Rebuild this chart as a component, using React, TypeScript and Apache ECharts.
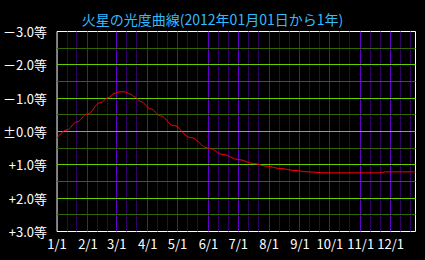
import React, { useEffect, useRef } from "react";
import * as echarts from "echarts";

// Day offsets from 2012-01-01 and Mars magnitude
const days = [0, 10, 20, 30, 44, 51, 58, 63, 68, 73, 78, 84, 94, 104, 117, 134, 152, 167, 182, 197, 211, 224, 239, 251, 271, 324, 330, 360];
const magnitudes = [0.19, -0.05, -0.29, -0.52, -0.87, -1.01, -1.15, -1.19, -1.19, -1.13, -1.04, -0.9, -0.68, -0.47, -0.18, 0.18, 0.5, 0.69, 0.84, 0.96, 1.04, 1.11, 1.17, 1.21, 1.24, 1.24, 1.21, 1.21];

const titleText = "火星の光度曲線(2012年01月01日から1年)";
const yTicks = [-3, -2, -1, 0, 1, 2, 3];
const yHalfLines = [-2.5, -1.5, -0.5, 0.5, 1.5, 2.5];
const dayCount = 361;

const FONT = "'Noto Sans CJK JP', 'Noto Sans', sans-serif";
const LINE_COLORS = ["#6600cc", "#330066", "#66cc00", "#336600"];

function dayDate(i: number) {
  return new Date(2012, 0, 1 + i);
}

const dayLabels: string[] = [];
for (let i = 0; i < dayCount; i++) {
  const d = dayDate(i);
  dayLabels.push(`${d.getMonth() + 1}/${d.getDate()}`);
}

function magLabel(v: number) {
  if (v === 0) return "±0.0等";
  return (v < 0 ? "－" : "+") + Math.abs(v).toFixed(1) + "等";
}

export default function App() {
  const ref = useRef<HTMLDivElement>(null);
  useEffect(() => {
    if (!ref.current) return;
    const chart = echarts.init(ref.current, undefined, { renderer: "svg" });

    // vertical grid lines: [dayIndex, 0, colorKind]
    const vLines: number[][] = [];
    for (let i = 1; i < dayCount - 1; i++) {
      const d = dayDate(i).getDate();
      if (d === 1) vLines.push([i, 0, 0]);
      else if (d === 11 || d === 21) vLines.push([i, 0, 1]);
    }
    // horizontal grid lines: [0, value, colorKind]
    const hLines: number[][] = [];
    yHalfLines.forEach((v) => hLines.push([0, v, 3]));
    yTicks.slice(1, -1).forEach((v) => hLines.push([0, v, 2]));

    const renderV = (params: any, api: any) => {
      const cs = params.coordSys;
      const p = api.coord([api.value(0), 0]);
      const x = Math.floor(p[0]) + 0.5;
      return {
        type: "line",
        silent: true,
        shape: { x1: x, y1: cs.y, x2: x, y2: cs.y + cs.height },
        style: { stroke: LINE_COLORS[api.value(2)], lineWidth: 1 },
      };
    };
    const renderH = (params: any, api: any) => {
      const cs = params.coordSys;
      const p = api.coord([0, api.value(1)]);
      const y = Math.floor(p[1]) + 0.5;
      return {
        type: "line",
        silent: true,
        shape: { x1: cs.x, y1: y, x2: cs.x + cs.width, y2: y },
        style: { stroke: LINE_COLORS[api.value(2)], lineWidth: 1 },
      };
    };

    chart.setOption({
      animation: false,
      backgroundColor: "#000000",
      title: {
        text: titleText,
        left: "center",
        top: 7,
        textStyle: { color: "#33bbff", fontSize: 14, fontWeight: "normal", fontFamily: FONT },
      },
      grid: {
        left: 55.5,
        top: 31.5,
        width: 360,
        height: 200,
        show: true,
        backgroundColor: "#000000",
        borderColor: "#ffffff",
        borderWidth: 1,
      },
      xAxis: {
        type: "category",
        data: dayLabels,
        boundaryGap: false,
        axisLine: { show: false },
        axisTick: { show: false },
        splitLine: { show: false },
        axisLabel: {
          color: "#ffffff",
          fontSize: 13,
          fontFamily: FONT,
          margin: 5,
          interval: (i: number) => dayDate(i).getDate() === 1,
        },
      },
      yAxis: {
        type: "value",
        inverse: true,
        min: yTicks[0],
        max: yTicks[yTicks.length - 1],
        interval: 1,
        axisLine: { show: false },
        axisTick: { show: false },
        splitLine: { show: false },
        minorSplitLine: { show: false },
        axisLabel: {
          color: "#ffffff",
          fontSize: 13,
          fontFamily: FONT,
          margin: 10,
          formatter: (v: number) => magLabel(v),
        },
      },
      series: [
        {
          type: "custom",
          renderItem: renderV,
          data: vLines,
          silent: true,
          z: 1,
        },
        {
          type: "custom",
          renderItem: renderH,
          data: hLines,
          silent: true,
          z: 2,
        },
        {
          type: "line",
          data: days.map((d, i) => [d, magnitudes[i]]),
          smooth: 0.4,
          smoothMonotone: "x",
          symbol: "none",
          lineStyle: { color: "#ff0000", width: 1 },
          z: 5,
        },
      ],
    });
    return () => chart.dispose();
  }, []);
  return (
    <div
      ref={ref}
      style={{ position: "fixed", left: 0, top: 0, width: 425, height: 260 }}
    />
  );
}
